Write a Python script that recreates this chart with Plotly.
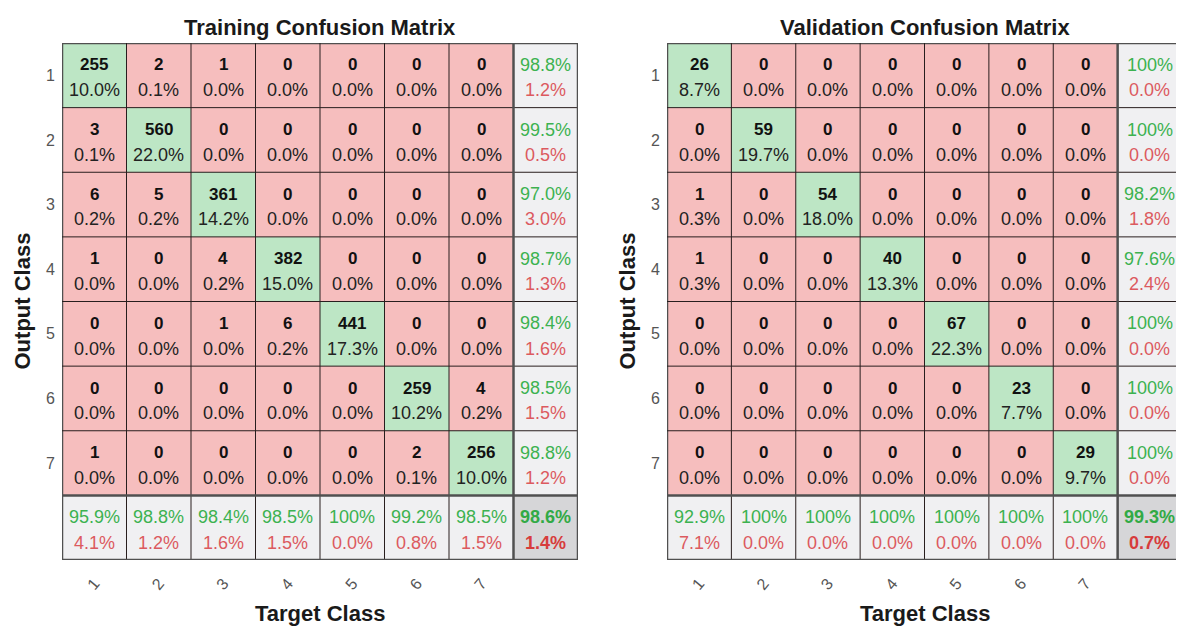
import plotly.graph_objects as go

classes = ["1", "2", "3", "4", "5", "6", "7"]

train_counts = [
    [255, 2, 1, 0, 0, 0, 0],
    [3, 560, 0, 0, 0, 0, 0],
    [6, 5, 361, 0, 0, 0, 0],
    [1, 0, 4, 382, 0, 0, 0],
    [0, 0, 1, 6, 441, 0, 0],
    [0, 0, 0, 0, 0, 259, 4],
    [1, 0, 0, 0, 0, 2, 256],
]

val_counts = [
    [26, 0, 0, 0, 0, 0, 0],
    [0, 59, 0, 0, 0, 0, 0],
    [1, 0, 54, 0, 0, 0, 0],
    [1, 0, 0, 40, 0, 0, 0],
    [0, 0, 0, 0, 67, 0, 0],
    [0, 0, 0, 0, 0, 23, 0],
    [0, 0, 0, 0, 0, 0, 29],
]

GREEN_CELL = "rgb(189,230,197)"
PINK_CELL = "rgb(246,190,190)"
GRAY_CELL = "rgb(240,240,242)"
DARK_CELL = "rgb(214,214,216)"
GREEN_TXT = "rgb(60,178,80)"
RED_TXT = "rgb(220,90,95)"
FONT = "Liberation Sans, Arial, sans-serif"

# the page body has an 8px margin, so the figure is 8px smaller than the window
W, H, OFF = 1176, 619, 8


def px_x(X):
    return (X - OFF) / W


def px_y(Y):
    return 1 - (Y - OFF) / H


def pct(v):
    if abs(v - 100) < 1e-9:
        return "100%"
    return f"{v:.1f}%"


def add_matrix(fig, counts, xa, ya, title, dom_x, dom_y):
    k = len(counts)
    total = sum(sum(r) for r in counts)
    # category matrix: 0 off-diagonal, 1 diagonal, 2 summary, 3 overall
    z = []
    for i in range(k + 1):
        row = []
        for j in range(k + 1):
            if i == k and j == k:
                row.append(3)
            elif i == k or j == k:
                row.append(2)
            elif i == j:
                row.append(1)
            else:
                row.append(0)
        z.append(row)

    xs = list(range(1, k + 2))
    fig.add_trace(go.Heatmap(
        z=z, x=xs, y=xs, xaxis=xa, yaxis=ya, zmin=0, zmax=3, showscale=False,
        colorscale=[[0, PINK_CELL], [0.25, PINK_CELL], [0.25, GREEN_CELL], [0.5, GREEN_CELL],
                    [0.5, GRAY_CELL], [0.75, GRAY_CELL], [0.75, DARK_CELL], [1, DARK_CELL]],
        hoverinfo="skip"))

    xr, yr = xa, ya
    ann = []
    up, dn = -0.16, 0.23
    for i in range(k):
        for j in range(k):
            c = counts[i][j]
            ann.append(dict(x=j + 1, y=i + 1 + up, xref=xr, yref=yr, text=f"<b>{c}</b>",
                            showarrow=False, font=dict(size=17, color="#111")))
            ann.append(dict(x=j + 1, y=i + 1 + dn, xref=xr, yref=yr, text=pct(100 * c / total),
                            showarrow=False, font=dict(size=18, color="#222")))
    # row summaries
    for i in range(k):
        p = 100 * counts[i][i] / sum(counts[i])
        ann.append(dict(x=k + 1, y=i + 1 + up, xref=xr, yref=yr, text=pct(p),
                        showarrow=False, font=dict(size=18, color=GREEN_TXT)))
        ann.append(dict(x=k + 1, y=i + 1 + dn, xref=xr, yref=yr, text=pct(100 - p),
                        showarrow=False, font=dict(size=18, color=RED_TXT)))
    # column summaries
    for j in range(k):
        p = 100 * counts[j][j] / sum(counts[i][j] for i in range(k))
        ann.append(dict(x=j + 1, y=k + 1 + up, xref=xr, yref=yr, text=pct(p),
                        showarrow=False, font=dict(size=18, color=GREEN_TXT)))
        ann.append(dict(x=j + 1, y=k + 1 + dn, xref=xr, yref=yr, text=pct(100 - p),
                        showarrow=False, font=dict(size=18, color=RED_TXT)))
    p = 100 * sum(counts[i][i] for i in range(k)) / total
    ann.append(dict(x=k + 1, y=k + 1 + up, xref=xr, yref=yr, text=f"<b>{pct(p)}</b>",
                    showarrow=False, font=dict(size=18, color="rgb(50,170,70)")))
    ann.append(dict(x=k + 1, y=k + 1 + dn, xref=xr, yref=yr, text=f"<b>{pct(100 - p)}</b>",
                    showarrow=False, font=dict(size=18, color="rgb(215,60,60)")))

    # titles
    cx = (dom_x[0] + dom_x[1]) / 2
    cy = (dom_y[0] + dom_y[1]) / 2
    ann.append(dict(x=cx, y=dom_y[1], xref="paper", yref="paper", xanchor="center",
                    yanchor="bottom", yshift=1, showarrow=False, text=f"<b>{title}</b>",
                    font=dict(size=22, color="#1a1a1a")))
    ann.append(dict(x=cx, y=px_y(613), xref="paper", yref="paper", xanchor="center",
                    yanchor="middle", showarrow=False, text="<b>Target Class</b>",
                    font=dict(size=22, color="#1a1a1a")))
    ann.append(dict(x=dom_x[0] - 40 / W, y=cy, xref="paper", yref="paper", xanchor="center",
                    yanchor="middle", textangle=-90, showarrow=False, text="<b>Output Class</b>",
                    font=dict(size=22, color="#1a1a1a")))
    for a in ann:
        fig.add_annotation(**a)

    # grid lines
    for t in range(k + 2):
        v = t + 0.5
        thick = t in (0, k, k + 1)
        col = "rgb(80,80,80)" if thick else "rgb(40,30,30)"
        lw = 2.5 if thick else 1
        fig.add_shape(type="line", xref=xr, yref=yr, x0=v, x1=v, y0=0.5, y1=k + 1.5,
                      line=dict(color=col, width=lw))
        fig.add_shape(type="line", xref=xr, yref=yr, x0=0.5, x1=k + 1.5, y0=v, y1=v,
                      line=dict(color=col, width=lw))


fig = go.Figure()
left_dom = [px_x(62), px_x(578)]
right_dom = [px_x(667), px_x(1182)]
y_dom = [px_y(560), px_y(43)]

add_matrix(fig, train_counts, "x", "y", "Training Confusion Matrix", left_dom, y_dom)
add_matrix(fig, val_counts, "x2", "y2", "Validation Confusion Matrix", right_dom, y_dom)

axis_common = dict(showgrid=False, zeroline=False, showline=False, ticks="", automargin=False,
                   tickfont=dict(size=16, color="#555", family=FONT))
xaxis = dict(axis_common, range=[0.5, 8.5], tickvals=list(range(1, 8)), ticktext=classes,
             tickangle=-50, ticklabelstandoff=10)
yaxis = dict(axis_common, range=[8.5, 0.5], tickvals=list(range(1, 8)), ticktext=classes,
             ticklabelstandoff=6)

fig.update_layout(
    width=W, height=H,
    margin=dict(l=0, r=0, t=0, b=0),
    paper_bgcolor="white", plot_bgcolor="white",
    font=dict(family=FONT),
    xaxis=dict(xaxis, domain=left_dom, anchor="y"),
    yaxis=dict(yaxis, domain=y_dom, anchor="x"),
    xaxis2=dict(xaxis, domain=right_dom, anchor="y2"),
    yaxis2=dict(yaxis, domain=y_dom, anchor="x2"),
)

fig.write_html("out.html")
